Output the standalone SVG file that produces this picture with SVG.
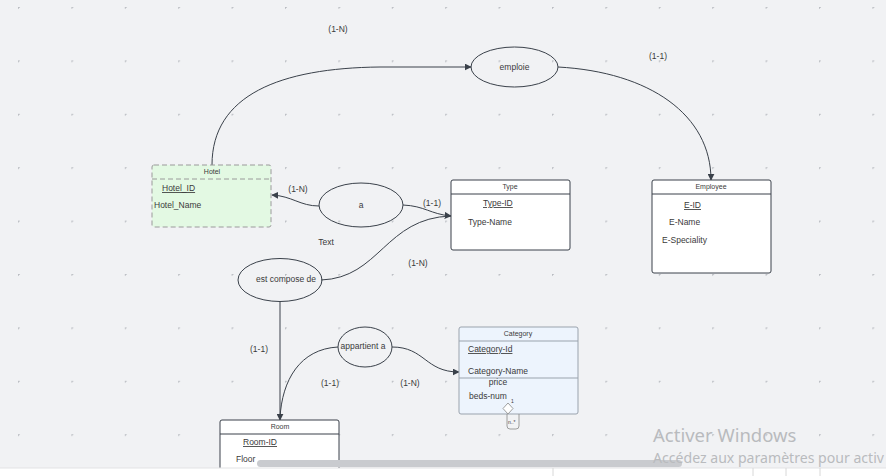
<svg xmlns="http://www.w3.org/2000/svg" width="886" height="476" viewBox="0 0 886 476">
<defs>
<pattern id="grid" x="18" y="7" width="53.4" height="53.4" patternUnits="userSpaceOnUse">
<path d="M-1.5,0H1.5M0,-1.5V1.5" stroke="#b4b7bd" stroke-width="0.7" transform="translate(0.5,0.5)"/>
</pattern>
<marker id="arr" viewBox="0 0 10 10" refX="9" refY="5" markerWidth="7" markerHeight="7" orient="auto" markerUnits="userSpaceOnUse">
<path d="M0,0L10,5L0,10z" fill="#3a414a"/>
</marker>
<style>
text{font-family:"Liberation Sans",Arial,sans-serif;fill:#3a3a3a}
.t{font-size:7px;text-anchor:middle}
.a{font-size:8.5px}
.u{text-decoration:underline}
.l{font-size:8.5px;text-anchor:middle}
.box{fill:#fff;stroke:#3a414a;stroke-width:1}
.ell{fill:none;stroke:#3a414a;stroke-width:1}
.c{fill:none;stroke:#3a414a;stroke-width:1}
.wm{fill:#b9bbbe;font-family:"Noto Sans","Open Sans",sans-serif}
</style>
</defs>
<rect width="886" height="476" fill="#f1f2f4"/>
<rect x="0" y="0" width="886" height="468" fill="url(#grid)"/>

<g id="connectors">
<path class="c" d="M212,165 C212,95 280,68 380,67 L471,67" marker-end="url(#arr)"/>
<path class="c" d="M558,67 C650,72 711,115 711,180" marker-end="url(#arr)"/>
<path class="c" d="M319,206 C300,206 292,196 272,195" marker-end="url(#arr)"/>
<path class="c" d="M403,205 C425,206 430,214 451,216" marker-end="url(#arr)"/>
<path class="c" d="M321,280 C380,278 385,218 451,216"/>
<path class="c" d="M280,302 L280,420" marker-end="url(#arr)"/>
<path class="c" d="M338,347 C300,349 282,380 280,418"/>
<path class="c" d="M392,347 C425,347 425,372 459,372" marker-end="url(#arr)"/>
</g>

<g id="hotel">
<rect x="152" y="165" width="119" height="62" rx="2" fill="#e3f9e3" stroke="#9a9a9a" stroke-dasharray="5,3"/>
<line x1="152" y1="179" x2="271" y2="179" stroke="#9a9a9a" stroke-dasharray="5,3"/>
<text class="t" x="212" y="174" fill="#555">Hotel</text>
<text class="a u" x="162" y="191">Hotel_ID</text>
<text class="a" x="154" y="208">Hotel_Name</text>
</g>

<g id="type">
<rect class="box" x="451" y="180" width="119" height="70" rx="2"/>
<line x1="451" y1="194" x2="570" y2="194" stroke="#3a414a"/>
<text class="t" x="510" y="189">Type</text>
<text class="a u" x="483" y="206">Type-ID</text>
<text class="a" x="468" y="225">Type-Name</text>
</g>

<g id="employee">
<rect class="box" x="652" y="180" width="119" height="93" rx="2"/>
<line x1="652" y1="194" x2="771" y2="194" stroke="#3a414a"/>
<text class="t" x="711" y="189">Employee</text>
<text class="a u" x="684" y="208">E-ID</text>
<text class="a" x="669" y="225">E-Name</text>
<text class="a" x="662" y="243">E-Speciality</text>
</g>

<g id="category">
<rect x="459" y="327" width="119" height="87" rx="2" fill="#edf4fd" stroke="#9aa3ad"/>
<line x1="459" y1="341" x2="578" y2="341" stroke="#9aa3ad"/>
<line x1="459" y1="378" x2="578" y2="378" stroke="#9aa3ad"/>
<text class="t" x="518" y="336">Category</text>
<text class="a u" x="468" y="352">Category-Id</text>
<text class="a" x="468" y="374">Category-Name</text>
<text class="a" x="498" y="385" text-anchor="middle">price</text>
<text class="a" x="469" y="399">beds-num</text>
<path d="M508,403 L513,408.5 L508,414 L503,408.5z" fill="#fff" stroke="#888" stroke-width="0.8"/>
<path d="M507,414 V426 Q507,429 510,429 H516 Q519,429 519,426 V414" fill="none" stroke="#888" stroke-width="0.8"/>
<text x="511" y="403" font-size="5">1</text>
<text x="508" y="424" font-size="5">n..*</text>
</g>

<g id="room">
<rect class="box" x="220" y="420" width="119" height="70" rx="2"/>
<line x1="220" y1="434" x2="339" y2="434" stroke="#3a414a"/>
<text class="t" x="280" y="429">Room</text>
<text class="a u" x="243" y="445">Room-ID</text>
<text class="a" x="236" y="462">Floor</text>
</g>

<g id="emploie">
<ellipse class="ell" cx="514.5" cy="67" rx="43.5" ry="20"/>
<text class="l" x="514.5" y="70">emploie</text>
</g>
<g id="a">
<ellipse class="ell" cx="361" cy="205" rx="42" ry="22"/>
<text class="l" x="361" y="208">a</text>
</g>
<g id="est_compose_de">
<ellipse class="ell" cx="280" cy="280" rx="42" ry="21.5"/>
<text class="l" x="286" y="282">est compose de</text>
</g>
<g id="appartient_a">
<ellipse class="ell" cx="365" cy="347" rx="27" ry="20"/>
<text class="l" x="363" y="349">appartient a</text>
</g>

<g id="labels">
<text class="l" x="338" y="32">(1-N)</text>
<text class="l" x="658" y="59">(1-1)</text>
<text class="l" x="298" y="192">(1-N)</text>
<text class="l" x="432" y="206">(1-1)</text>
<text class="l" x="326" y="245">Text</text>
<text class="l" x="418" y="266">(1-N)</text>
<text class="l" x="259" y="352">(1-1)</text>
<text class="l" x="330" y="386">(1-1)</text>
<text class="l" x="410" y="386">(1-N)</text>
</g>

<rect x="257" y="460" width="425" height="7" rx="3.5" fill="#c9cbcf"/>
<rect x="0" y="468" width="886" height="8" fill="#ffffff"/>
<line x1="0" y1="468" x2="886" y2="468" stroke="#e2e3e5"/>
<line x1="553" y1="468" x2="553" y2="476" stroke="#d8d8d8"/>
<line x1="753" y1="468" x2="753" y2="476" stroke="#d8d8d8"/>
<line x1="786" y1="468" x2="786" y2="476" stroke="#d8d8d8"/>
<line x1="820" y1="468" x2="820" y2="476" stroke="#d8d8d8"/>
<text class="wm" x="653" y="442" font-size="18.5">Activer Windows</text>
<text class="wm" x="653" y="463" font-size="14" textLength="231" lengthAdjust="spacingAndGlyphs">Accédez aux paramètres pour activ</text>
</svg>
